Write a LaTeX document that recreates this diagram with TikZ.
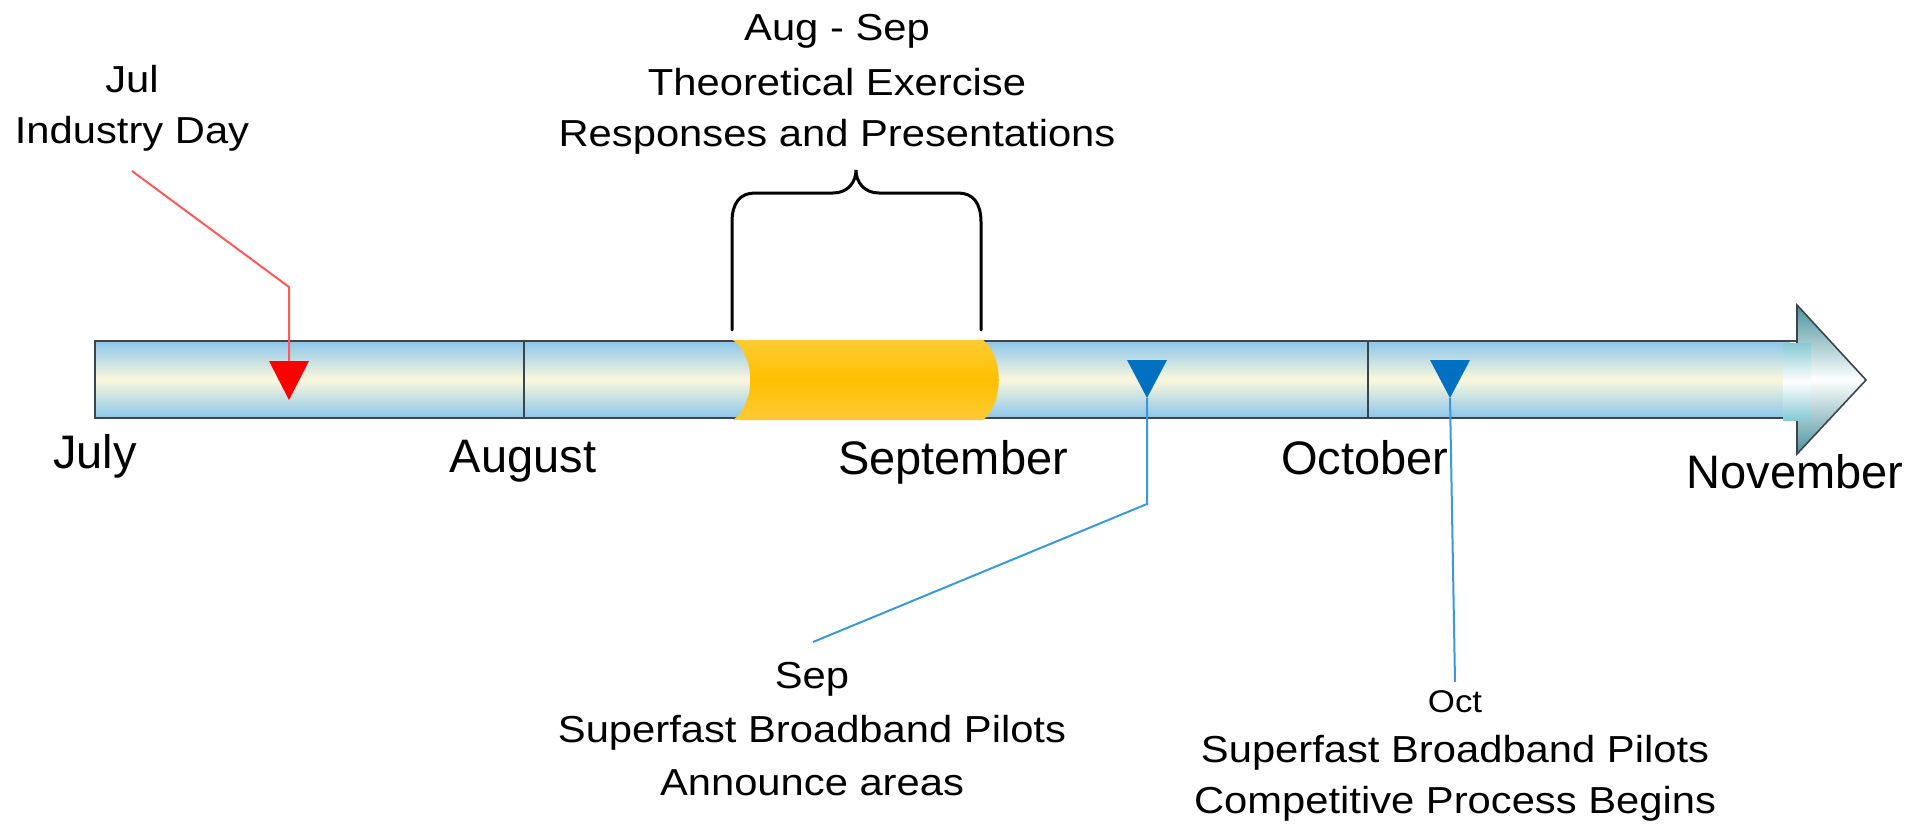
\documentclass[tikz,border=0pt]{standalone}
\usepackage{fontspec}
\setmainfont{Liberation Sans}
\definecolor{barblue}{HTML}{8CC6EA}
\definecolor{barcream}{HTML}{FBF8DC}
\definecolor{barline}{HTML}{3A4550}
\definecolor{goldtop}{HTML}{FFCB35}
\definecolor{goldmid}{HTML}{FFC000}
\definecolor{headteal}{HTML}{4A929C}
\definecolor{rectteal}{HTML}{86CAD4}
\definecolor{markred}{HTML}{FF0000}
\definecolor{linered}{HTML}{FF5A5A}
\definecolor{markblue}{HTML}{0070C0}
\definecolor{lineblue}{HTML}{3A9AD9}
\newcommand{\sx}[1]{\scalebox{1.11}[1]{#1}}
\begin{document}
\begin{tikzpicture}[x=0.5pt,y=-0.5pt,
  callout/.style={anchor=base,inner sep=0pt,font=\fontsize{18.8}{22}\selectfont},
  month/.style={anchor=base,inner sep=0pt,font=\fontsize{23.5}{28}\selectfont},
  smalllbl/.style={anchor=base,inner sep=0pt,font=\fontsize{15.7}{18}\selectfont},
  outline/.style={draw=barline,line width=1.2pt},
  divider/.style={draw=barline,line width=0.9pt},
  redlead/.style={draw=linered,line width=1pt},
  bluelead/.style={draw=lineblue,line width=1pt},
  bracestyle/.style={draw=black,line width=1.5pt,line cap=round},
]
\useasboundingbox (0,0) rectangle (1915,825);

% bar body
\shade[top color=barblue,bottom color=barblue,middle color=barcream]
  (95,341) rectangle (1790,418);
\draw[outline] (1797,341) -- (95,341) -- (95,418) -- (1783,418);
\draw[divider] (524,341) -- (524,418);
\draw[divider] (1368,341) -- (1368,418);

% highlighted period
\shade[top color=goldtop,bottom color=goldtop,middle color=goldmid]
  (733,340) .. controls (756,356) and (756,404) .. (733,420)
  -- (983,420) .. controls (1004,404) and (1004,356) .. (983,340) -- cycle;

% arrow head
\shade[top color=headteal,bottom color=headteal,middle color=white,draw=barline,line width=0.8pt]
  (1797,305) -- (1866,380) -- (1797,454) -- cycle;
\shade[top color=rectteal,bottom color=rectteal,middle color=white]
  (1783,343) rectangle (1811,420);

% brace
\draw[bracestyle] (732,330) -- (732,222)
  .. controls (732,203) and (740,193) .. (755,193) -- (833,193)
  .. controls (848,193) and (856,182) .. (856,170)
  .. controls (856,182) and (864,193) .. (879,193) -- (958,193)
  .. controls (973,193) and (981,203) .. (981,222) -- (981,330);

% markers
\coordinate (redtri) at (289,361);
\coordinate (septri) at (1147,398);
\coordinate (octtri) at (1450,398);
\fill[markred] (269,361) -- (309,361) -- (289,400) -- cycle;
\fill[markblue] (1127,360) -- (1167,360) -- (1147,398) -- cycle;
\fill[markblue] (1430,360) -- (1470,360) -- (1450,398) -- cycle;

% labels
\node[callout] (jul1) at (132,92) {\sx{Jul}};
\node[callout] (jul2) at (132,143) {\sx{Industry Day}};
\node[callout] (aug1) at (837,40) {\sx{Aug - Sep}};
\node[callout] (aug2) at (837,95) {\sx{Theoretical Exercise}};
\node[callout] (aug3) at (837,146) {\sx{Responses and Presentations}};
\node[callout] (sep1) at (812,688) {\sx{Sep}};
\node[callout] (sep2) at (812,742) {\sx{Superfast Broadband Pilots}};
\node[callout] (sep3) at (812,795) {\sx{Announce areas}};
\node[smalllbl] (oct1) at (1455,712) {\sx{Oct}};
\node[callout] (oct2) at (1455,762) {\sx{Superfast Broadband Pilots}};
\node[callout] (oct3) at (1455,813) {\sx{Competitive Process Begins}};

\node[month] (mjul) at (95,468) {July};
\node[month] (maug) at (523,472) {August};
\node[month] (msep) at (953,474) {September};
\node[month] (moct) at (1365,474) {October};
\node[month] (mnov) at (1795,488) {November};

% leader lines
\coordinate (julend) at (132,171);
\coordinate (julbend) at (289,287);
\draw[redlead] (julend) -- (julbend) -- (redtri);
\coordinate (sepbend) at (1147,504);
\coordinate (sepend) at (813,642);
\draw[bluelead] (septri) -- (sepbend) -- (sepend);
\coordinate (octend) at (1455,682);
\draw[bluelead] (octtri) -- (octend);
\end{tikzpicture}
\end{document}
